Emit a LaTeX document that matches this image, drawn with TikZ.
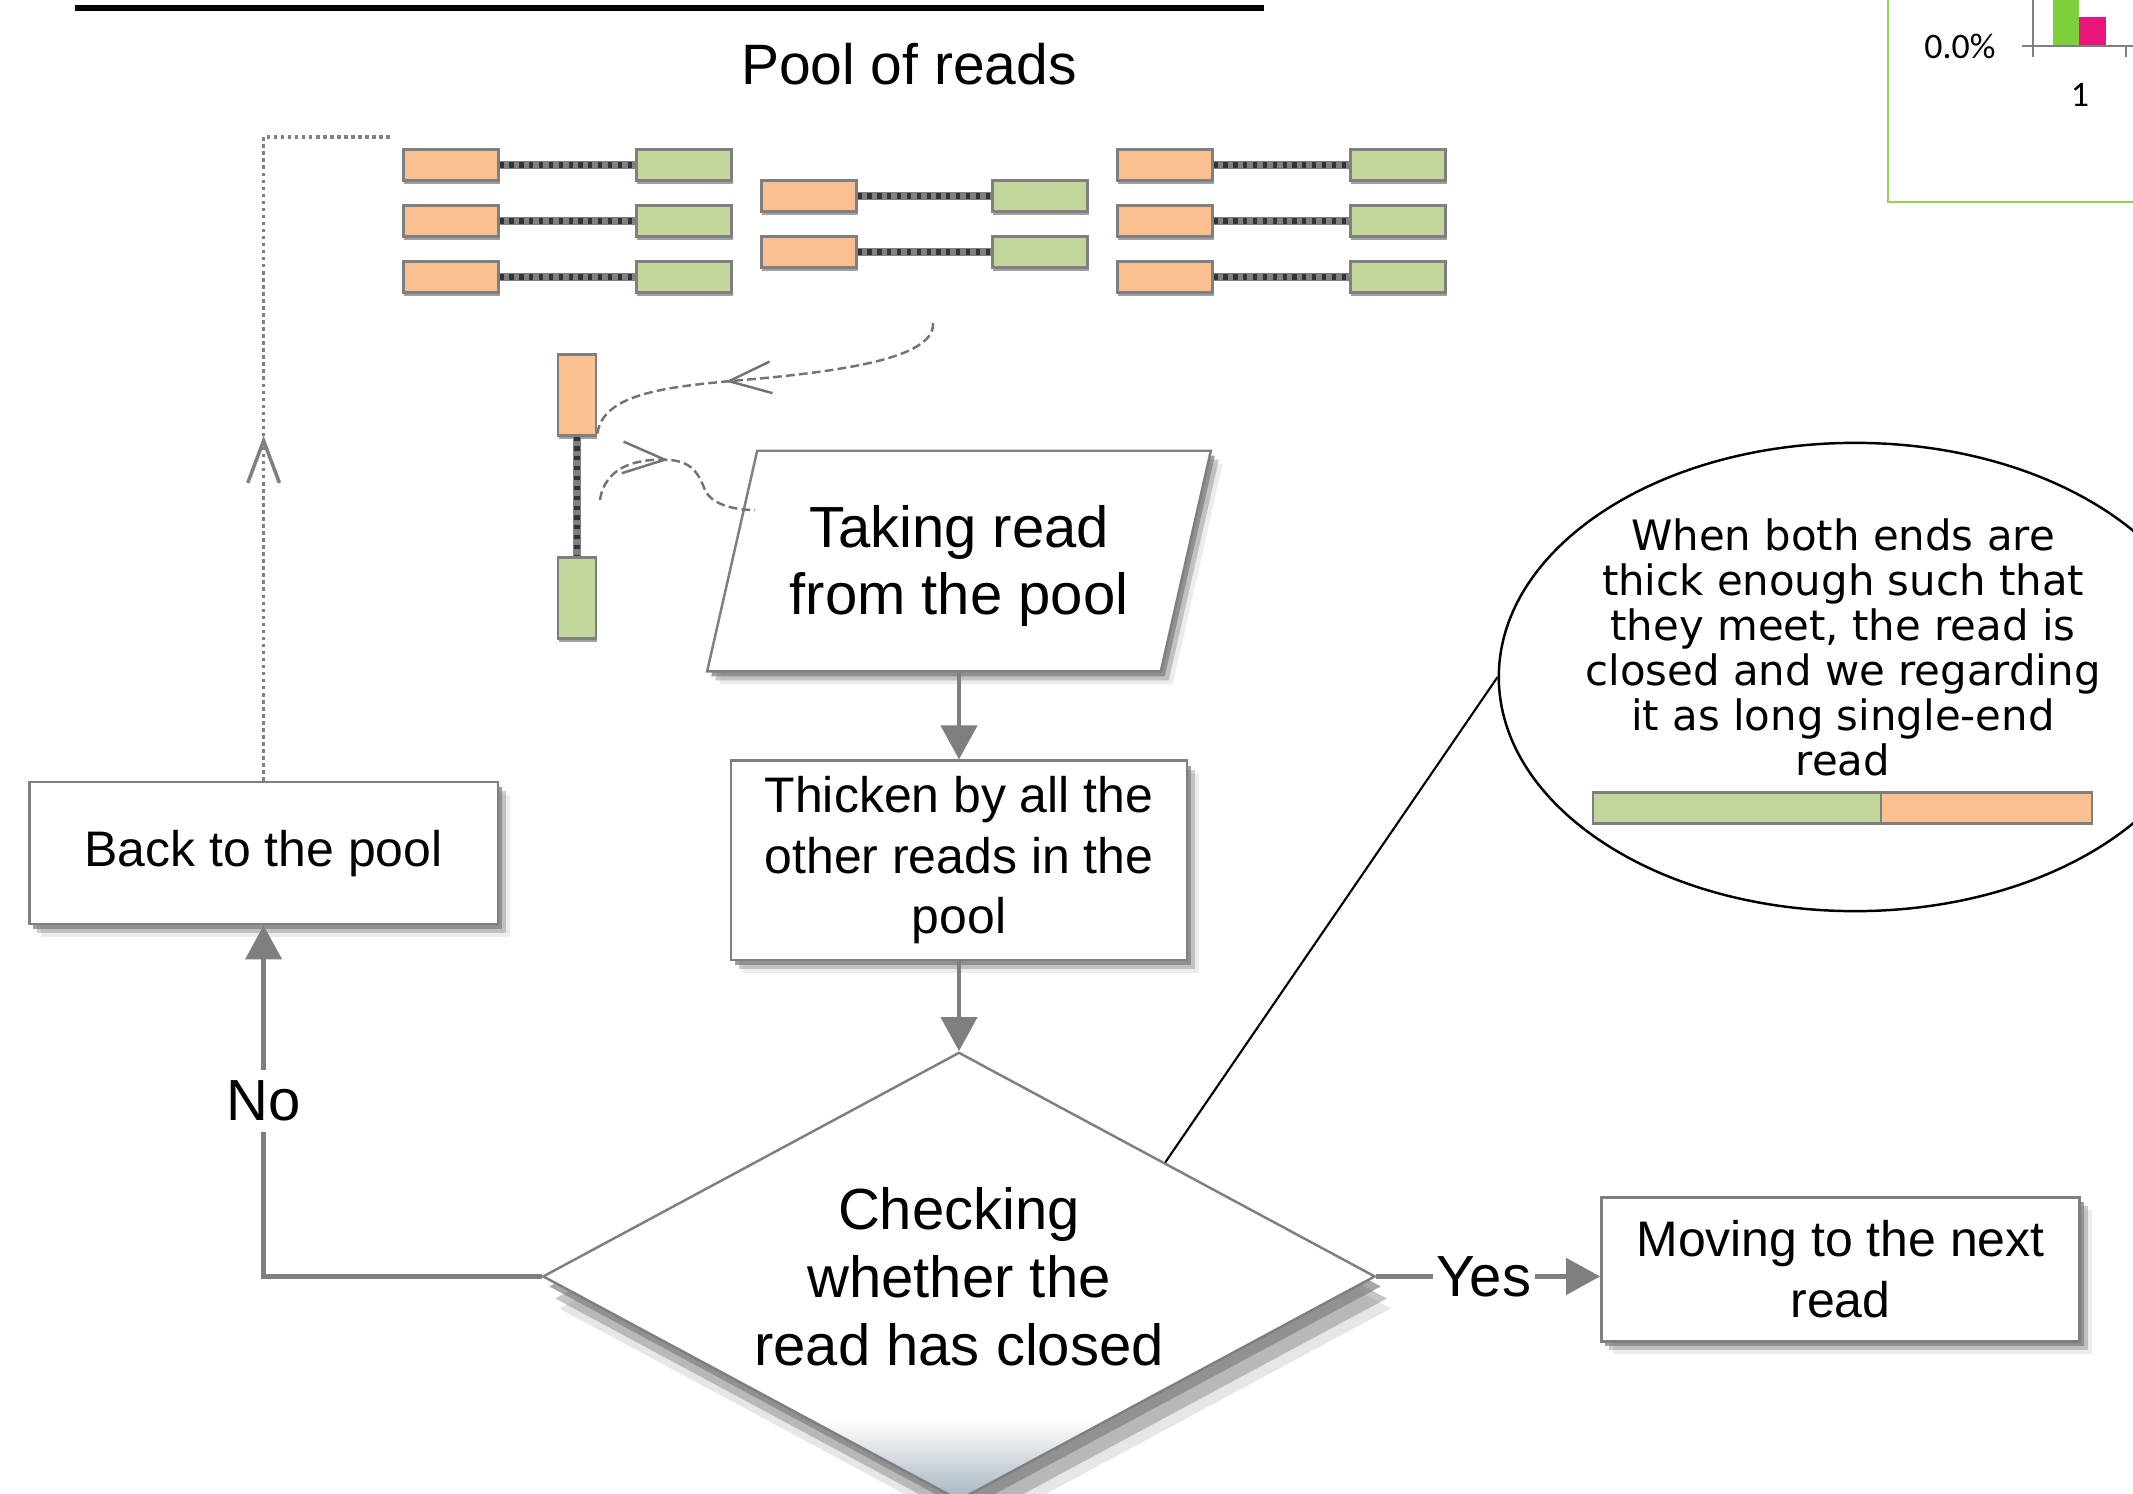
\documentclass[tikz,border=0pt]{standalone}
\usepackage{fontspec}
\setmainfont{Liberation Sans}
\newfontfamily\notefont{DejaVu Sans}
\newfontfamily\chartfont{Carlito}
\usetikzlibrary{positioning, shapes.geometric, arrows.meta, shadows, decorations.markings, calc}

\definecolor{endorange}{RGB}{250,192,144}
\definecolor{endgreen}{RGB}{195,214,155}
\definecolor{framegray}{RGB}{127,127,127}
\definecolor{fadeblue}{RGB}{165,180,192}
\definecolor{chartgreen}{RGB}{146,208,80}
\definecolor{barlime}{RGB}{127,209,59}
\definecolor{barpink}{RGB}{234,21,122}

% bottom of the decision diamond fades into blue-gray
\pgfdeclareverticalshading{diamondfade}{100bp}{color(0bp)=(fadeblue); color(25bp)=(fadeblue); color(34bp)=(white); color(100bp)=(white)}

\tikzset{
softshadow/.style={drop shadow={shadow xshift=0.04cm, shadow yshift=-0.05cm, opacity=0.75}, drop shadow={shadow xshift=0.08cm, shadow yshift=-0.09cm, opacity=0.4}, drop shadow={shadow xshift=0.12cm, shadow yshift=-0.13cm, opacity=0.15}}, % stacked shadows to fake a blur
readend/.style={draw=framegray, line width=0.6pt, minimum width=0.95cm, minimum height=0.31cm, inner sep=0pt, drop shadow={shadow xshift=0.01cm, shadow yshift=-0.03cm, opacity=0.75}}, % one end of a read
barpart/.style={draw=framegray, line width=0.6pt, minimum height=0.31cm, inner sep=0pt, outer sep=0pt}, % part of the closed read
linker/.style={draw=gray, line width=2.4pt, postaction={draw=black!80, line width=1.6pt, dash pattern=on 1.2pt off 1.6pt}}, % the gap between two ends
flowbox/.style={rectangle, draw=framegray, line width=0.7pt, fill=white, align=center, softshadow, font=\fontsize{14.2pt}{17.3pt}\selectfont},
takebox/.style={rectangle, minimum width=4.52cm, minimum height=2.19cm, align=center, font=\fontsize{16.5pt}{19.3pt}\selectfont}, % the slanted frame is drawn round it
takeframe/.style={draw=framegray, line width=0.7pt, fill=white, softshadow},
decision/.style={diamond, aspect=1.857, draw=framegray, line width=0.7pt, shade, shading=diamondfade, minimum width=8.32cm, minimum height=4.48cm, inner sep=0pt, align=center, drop shadow={shadow xshift=0.06cm, shadow yshift=-0.1cm, opacity=0.7}, drop shadow={shadow xshift=0.12cm, shadow yshift=-0.22cm, opacity=0.45}, drop shadow={shadow xshift=0.16cm, shadow yshift=-0.32cm, opacity=0.2}, font=\fontsize{16.5pt}{19.3pt}\selectfont},
flow/.style={draw=framegray, line width=1.3pt, -{Triangle[length=0.34cm, width=0.36cm]}}, % main arrows
answer/.style={fill=white, inner xsep=1pt, inner ysep=3pt, font=\fontsize{16.5pt}{19pt}\selectfont},
backpath/.style={draw=gray, line width=1pt, densely dotted},
pickpath/.style={draw=gray!90!black, line width=0.7pt, dash pattern=on 2.5pt off 1.2pt},
midarrow/.style={postaction={decorate, decoration={markings, mark=at position #1 with {\arrow{Straight Barb[length=12pt, width=9pt]}}}}},
notebubble/.style={ellipse, draw, line width=0.7pt, minimum width=7.12cm, minimum height=4.68cm, inner sep=0pt},
notetext/.style={align=center, font=\notefont\fontsize{11.9pt}{12.8pt}\selectfont},
chartlabel/.style={font=\chartfont\fontsize{10.2pt}{12pt}\selectfont},
}

\begin{document}
\begin{tikzpicture}[x=0.01cm, y=-0.01cm]
    \useasboundingbox (0,0) rectangle (2133,1494);

    % Pool of reads
    \draw[line width=1.7pt] (75,8) -- (1264,8);
    \node[font=\fontsize{16.2pt}{19pt}\selectfont] (pooltitle) at (909,64) {Pool of reads};
    \foreach \ox/\gx/\ry [count=\i] in {451/684/165, 451/684/221, 451/684/277, 809/1040/196, 809/1040/252, 1165/1398/165, 1165/1398/221, 1165/1398/277} {
        \node[readend, fill=endorange] (o\i) at (\ox,\ry) {};
        \node[readend, fill=endgreen] (g\i) at (\gx,\ry) {};
        \draw[linker] (o\i) -- (g\i);
    }

    % Read taken out of the pool
    \node[readend, fill=endorange, minimum width=0.38cm, minimum height=0.81cm] (rdo) at (577,395) {};
    \node[readend, fill=endgreen, minimum width=0.38cm, minimum height=0.81cm] (rdg) at (577,598) {};
    \draw[linker] (rdo) -- (rdg);

    % Flow chart
    \node[takebox] (take) at (959,561) {};
    \draw[takeframe] ([xshift=0.25cm]take.north west) -- ([xshift=0.25cm]take.north east) -- ([xshift=-0.25cm]take.south east) -- ([xshift=-0.25cm]take.south west) -- cycle;
    \node[takebox, yshift=-0.05cm] (taketext) at (take) {Taking read\\from the pool};
    \node[flowbox, node distance=2.99cm, below of=take, minimum width=4.56cm, minimum height=1.99cm] (thicken) {Thicken by all the\\other reads in the\\pool};
    \node[decision, node distance=4.16cm, below of=thicken] (check) {Checking\\whether the\\read has closed};
    \node[flowbox, node distance=6.95cm, left of=thicken, yshift=0.07cm, minimum width=4.68cm, minimum height=1.42cm] (back) {Back to the pool};
    \node[flowbox, node distance=8.81cm, right of=check, yshift=0.07cm, minimum width=4.78cm, minimum height=1.44cm] (next) {Moving to the next\\read};
    \draw[flow] (take.south) -- (thicken.north);
    \draw[flow] (thicken.south) -- (check.north);
    \draw[flow] (check.west) -| node[answer, pos=0.75] {No} (back.south);
    \draw[flow] (check.east) -- node[answer, pos=0.48] {Yes} (check.east -| next.west);

    % Back into the pool
    \coordinate (poolcorner) at (392,137);
    \draw[backpath, midarrow=0.447] (back.north) |- (poolcorner);

    % Picking a read
    \coordinate (pickstart) at (933,323);
    \coordinate (rdout) at (600,500);
    \coordinate (takein) at (755,510);
    \draw[pickpath, midarrow=0.6] (pickstart) .. controls (935,355) and (860,370) .. (743,380) .. controls (660,387) and (600,395) .. (rdo.south east);
    \draw[pickpath, midarrow=0.45] (rdout) .. controls (605,465) and (640,458) .. (670,460) .. controls (695,462) and (700,478) .. (705,490) .. controls (712,505) and (735,510) .. (takein);

    % Note on closed reads
    \node[notebubble] (bubble) at (1855,677) {};
    \node[notetext] (note) at (1843,647) {When both ends are\\thick enough such that\\they meet, the read is\\closed and we regarding\\it as long single-end\\read};
    \node[barpart, fill=endgreen, minimum width=2.88cm] (closedg) at (1737,808) {};
    \node[barpart, fill=endorange, minimum width=2.11cm, right=0pt of closedg] (closedo) {};
    \draw[line width=0.6pt] (bubble.west) -- ($(check.north)!0.494!(check.east)$);

    % Corner of the chart
    \draw[chartgreen, line width=0.6pt] (1888,0) |- (2133,202);
    \fill[barlime] (2053,0) rectangle (2079,46);
    \fill[barpink] (2079,17) rectangle (2106,46);
    \draw[gray, line width=0.6pt] (2022,46) -- (2133,46) (2033,0) -- (2033,57) (2126,46) -- (2126,57);
    \node[chartlabel] (pct) at (1960,46) {0.0\%};
    \node[chartlabel] (cat) at (2080,95) {1};
\end{tikzpicture}
\end{document}
